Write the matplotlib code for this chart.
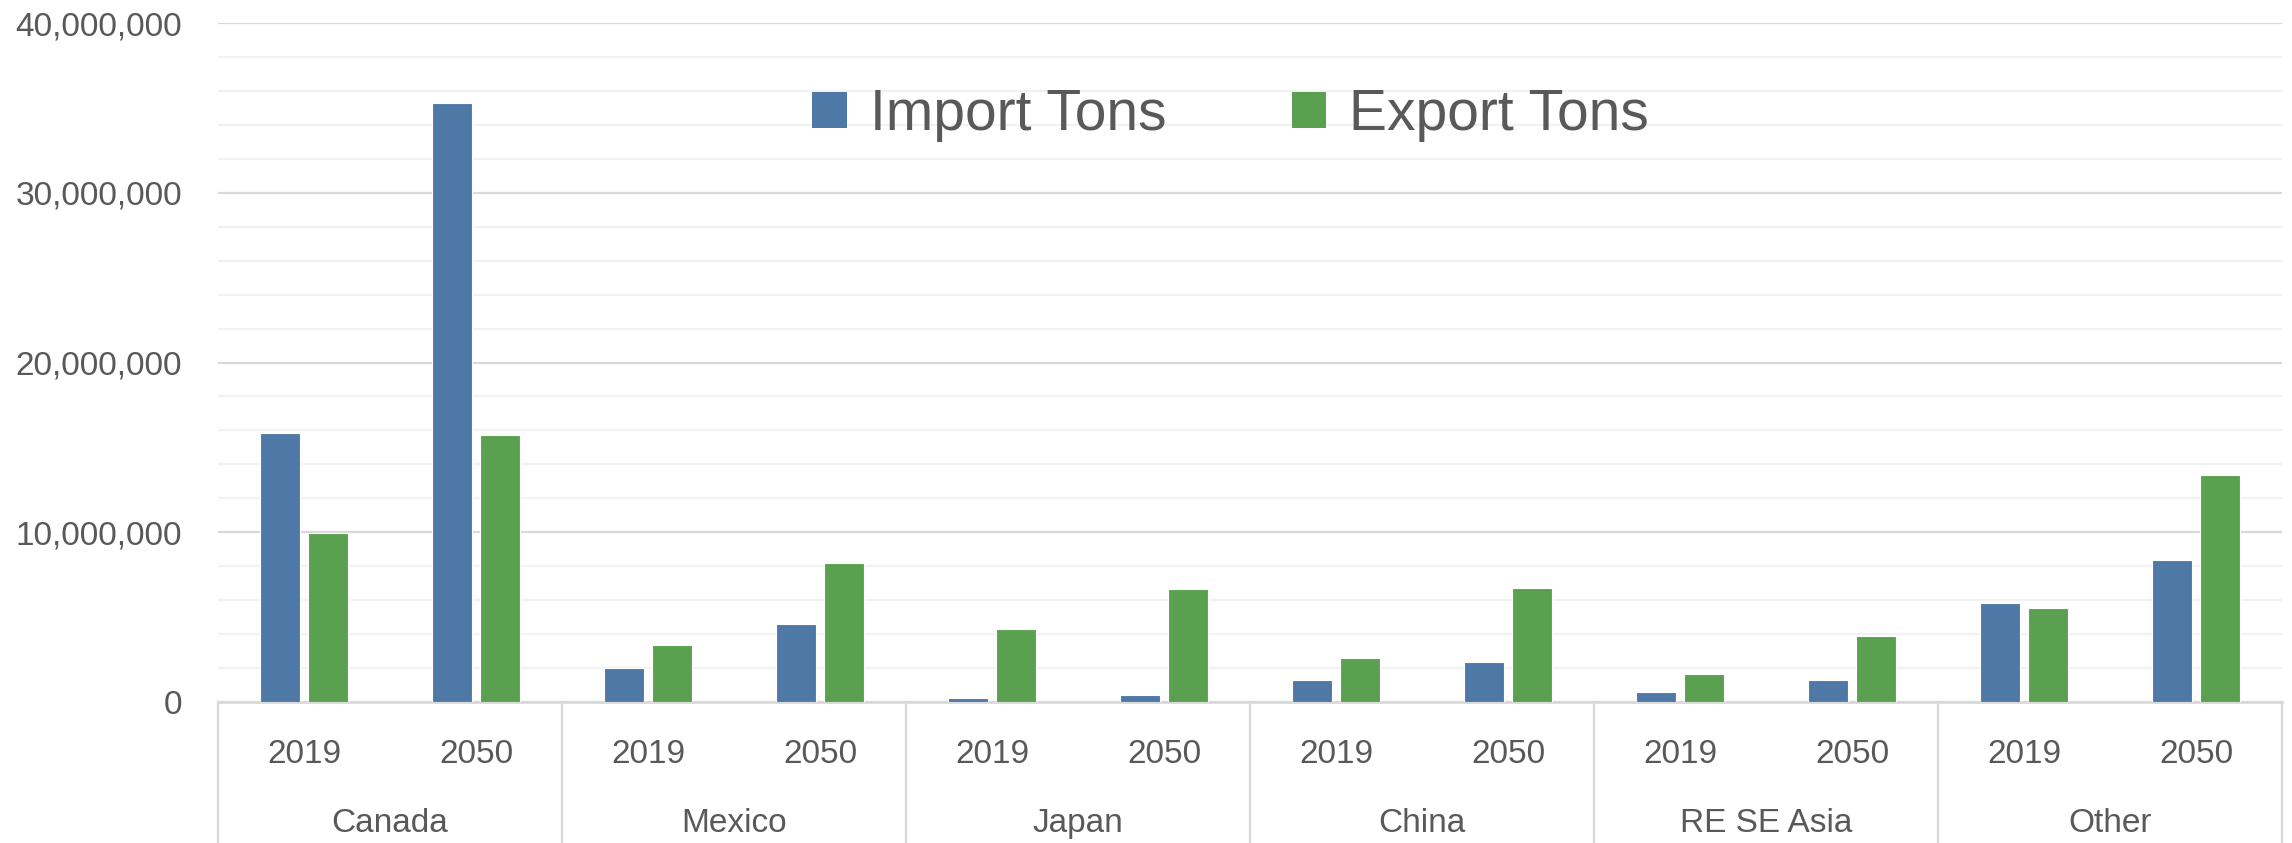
import matplotlib
matplotlib.use("Agg")
import matplotlib.pyplot as plt
from matplotlib.patches import Patch
from matplotlib.ticker import FuncFormatter, MultipleLocator
import matplotlib.transforms as mtransforms

# ---- data ----
regions = ["Canada", "Mexico", "Japan", "China", "RE SE Asia", "Other"]
years = ["2019", "2050"]
import_tons = [15.86e6, 35.3e6, 1.98e6, 4.57e6, 0.26e6, 0.43e6,
               1.29e6, 2.33e6, 0.60e6, 1.29e6, 5.86e6, 8.36e6]
export_tons = [9.95e6, 15.75e6, 3.36e6, 8.19e6, 4.30e6, 6.64e6,
               2.59e6, 6.72e6, 1.64e6, 3.88e6, 5.52e6, 13.4e6]
series_names = ["Import Tons", "Export Tons"]

plt.rcParams['font.family'] = ['Liberation Sans', 'DejaVu Sans']
TXT = '#595959'
C_IMP = '#4E79A7'
C_EXP = '#59A14F'

W, H = 2292, 843
fig = plt.figure(figsize=(W / 100, H / 100), dpi=100)
x0, x1 = 218, 2282
y_top, y_zero = 23, 702
ax = fig.add_axes([x0 / W, 1 - y_zero / H, (x1 - x0) / W, (y_zero - y_top) / H])

n = len(import_tons)
xs = list(range(n))
bw = 0.229
off = 0.14
ax.bar([x - off for x in xs], import_tons, width=bw, color=C_IMP,
       edgecolor='white', linewidth=0.8, zorder=3)
ax.bar([x + off for x in xs], export_tons, width=bw, color=C_EXP,
       edgecolor='white', linewidth=0.8, zorder=3)

ax.set_xlim(-0.5, n - 0.5)
ax.set_ylim(0, 40e6)
ax.yaxis.set_major_locator(MultipleLocator(10e6))
ax.yaxis.set_minor_locator(MultipleLocator(2e6))
ax.yaxis.set_major_formatter(FuncFormatter(lambda v, p: f"{int(v):,}"))
ax.grid(axis='y', which='major', color='#D9D9D9', linewidth=1.6, zorder=0)
ax.grid(axis='y', which='minor', color='#F2F2F2', linewidth=1.6, zorder=0)
ax.set_axisbelow(True)
for s in ['top', 'right', 'left']:
    ax.spines[s].set_visible(False)
ax.spines['bottom'].set_color('#D9D9D9')
ax.spines['bottom'].set_linewidth(2)
ax.tick_params(axis='y', which='both', length=0, labelsize=24, labelcolor=TXT, pad=26)
ax.tick_params(axis='x', which='both', length=0, labelbottom=False)

# multi-level category axis
trans = mtransforms.blended_transform_factory(ax.transData, ax.transAxes)
ax_h = (y_zero - y_top)
y_year = -(763 - y_zero) / ax_h
y_reg = -(832 - y_zero) / ax_h
y_bot = -(H - y_zero) / ax_h
for i in range(n):
    ax.text(i, y_year, years[i % 2], transform=trans, ha='center', va='baseline',
            fontsize=24, color=TXT)
for j, r in enumerate(regions):
    ax.text(2 * j + 0.5, y_reg, r, transform=trans, ha='center', va='baseline',
            fontsize=24, color=TXT)
for j in range(len(regions) + 1):
    ax.plot([2 * j - 0.5, 2 * j - 0.5], [0, y_bot], transform=trans,
            color='#D9D9D9', linewidth=1.6, clip_on=False)

handles = [Patch(facecolor=C_IMP, edgecolor='none'), Patch(facecolor=C_EXP, edgecolor='none')]
leg = ax.legend(handles, series_names, loc='center', ncol=2,
                bbox_to_anchor=((1230.5 - x0) / (x1 - x0), (y_zero - 115) / ax_h),
                frameon=False, fontsize=41, handlelength=0.61, handleheight=0.61,
                handletextpad=0.4, columnspacing=2.2, borderpad=0)
for t in leg.get_texts():
    t.set_color(TXT)

fig.savefig('out.png', dpi=100, facecolor='white')
